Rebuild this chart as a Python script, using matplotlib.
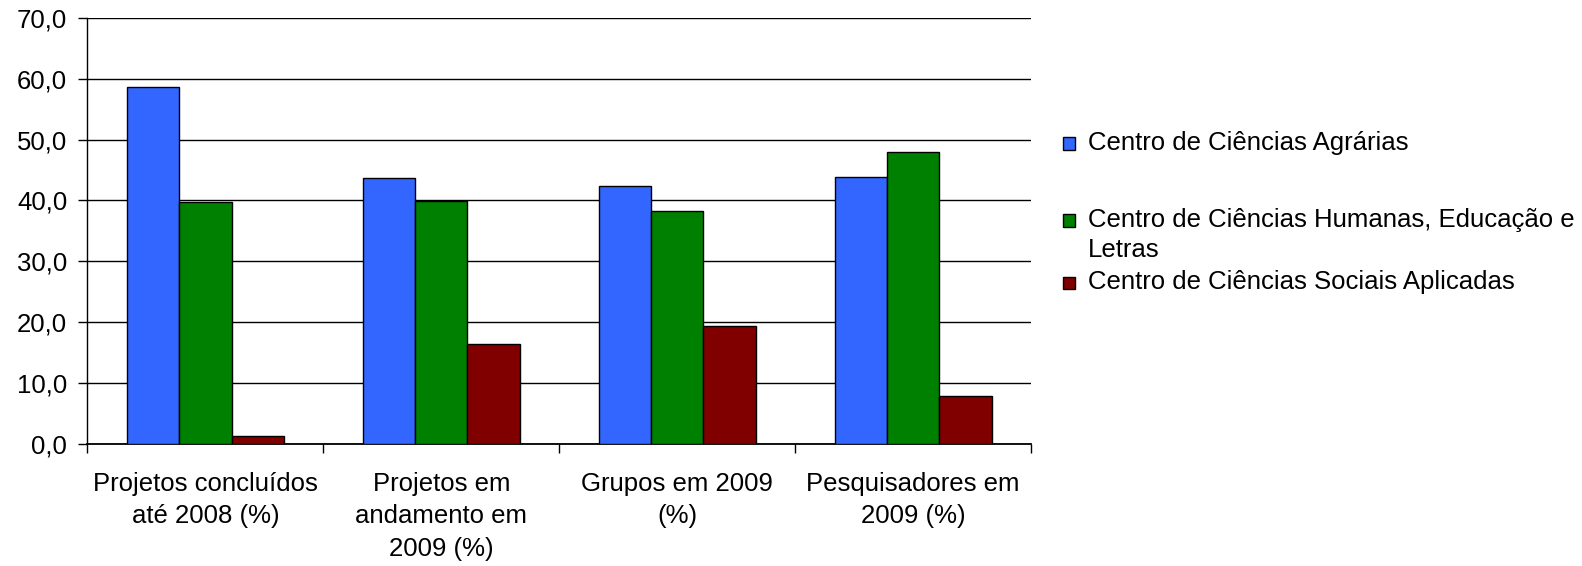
import matplotlib
matplotlib.use('Agg')
import matplotlib.pyplot as plt
import numpy as np
from matplotlib.patches import Rectangle
from matplotlib.ticker import FuncFormatter, MultipleLocator

plt.rcParams['font.family'] = ['Liberation Sans', 'DejaVu Sans']

categories = ['Projetos concluídos\naté 2008 (%)',
              'Projetos em\nandamento em\n2009 (%)',
              'Grupos em 2009\n(%)',
              'Pesquisadores em\n2009 (%)']
series = ['Centro de Ciências Agrárias',
          'Centro de Ciências Humanas, Educação e\nLetras',
          'Centro de Ciências Sociais Aplicadas']
agrarias = [58.7, 43.6, 42.3, 43.9]
humanas = [39.8, 39.9, 38.3, 47.9]
sociais = [1.4, 16.4, 19.4, 7.9]
colors = ['#3366FF', '#008000', '#800000']

fs = 18.5
fig = plt.figure(figsize=(15.82, 5.66), dpi=100)
ax = fig.add_axes([0.0553, 0.2155, 0.5964, 0.7532])

x = np.arange(len(categories))
w = 0.222
for i, vals in enumerate([agrarias, humanas, sociais]):
  ax.bar(x + (i - 1) * w, vals, width=w, color=colors[i],
         edgecolor='black', linewidth=1.0, zorder=3)

ax.set_xlim(-0.5, len(categories) - 0.5)
ax.set_ylim(0, 70)
ax.yaxis.set_major_locator(MultipleLocator(10))
ax.yaxis.set_major_formatter(FuncFormatter(lambda v, p: '{:.1f}'.format(v).replace('.', ',')))
ax.grid(True, axis='y', color='black', linewidth=1.0, zorder=0)

ax.set_xticks(x)
ax.set_xticklabels(categories, fontsize=fs, linespacing=1.45)
ax.set_xticks(np.arange(len(categories) + 1) - 0.5, minor=True)
ax.tick_params(axis='x', which='major', length=0, pad=20)
ax.tick_params(axis='x', which='minor', length=6.5, width=1.0, direction='out')
ax.tick_params(axis='y', length=6.5, width=1.0, pad=8, labelsize=fs)

for s in ['top', 'right']:
  ax.spines[s].set_visible(False)
ax.spines['left'].set_linewidth(1.0)
ax.spines['bottom'].set_linewidth(1.3)

# legend drawn by hand to keep Excel's spacing
leg_y = [143.5, 220.5, 283.0]
H = 566.0
for i, lab in enumerate(series):
  y = 1 - leg_y[i] / H
  fig.add_artist(Rectangle((1063 / 1582, y - 6 / H), 12 / 1582, 12 / H,
                           transform=fig.transFigure, facecolor=colors[i],
                           edgecolor='black', linewidth=1.0))
  fig.text(1088 / 1582, y + 12.5 / H, lab, fontsize=fs, va='top', ha='left',
           linespacing=1.3)

fig.savefig('out.png', dpi=100)
